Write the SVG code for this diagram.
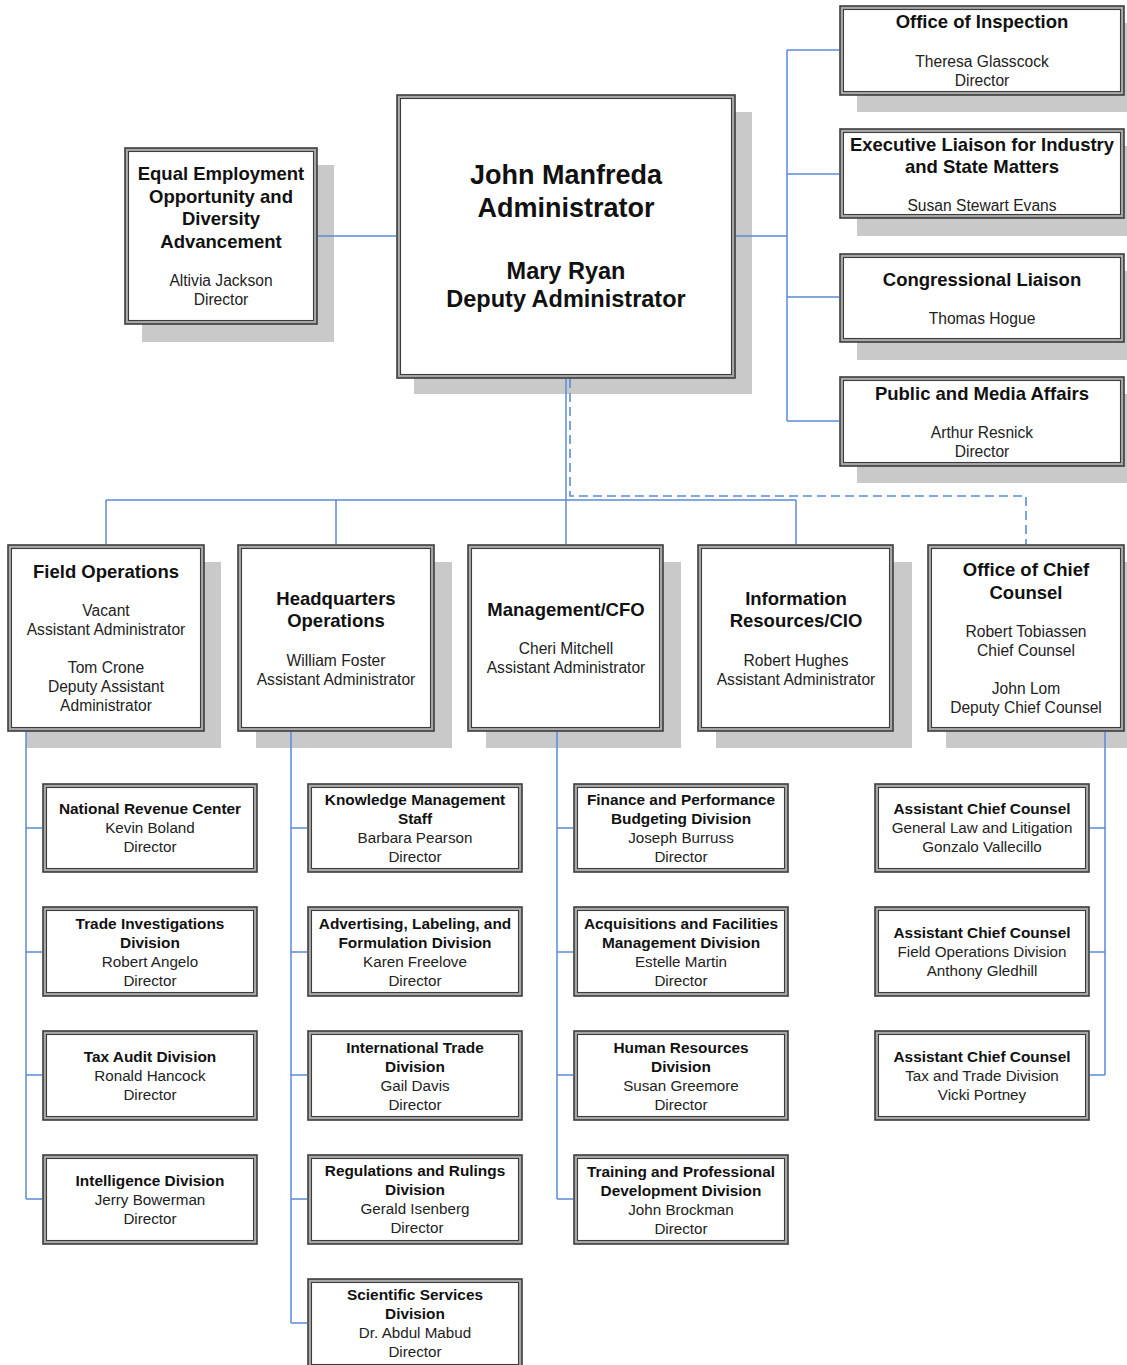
<svg xmlns="http://www.w3.org/2000/svg" width="1127" height="1365" viewBox="0 0 1127 1365">
<style>
.sh{fill:#c9c9c9}
.ob{fill:#a8a8a8;stroke:#3c3c3c;stroke-width:1.6}
.ib{fill:#fff;stroke:#3c3c3c;stroke-width:1.1}
text{font-family:"Liberation Sans",Arial,sans-serif;text-anchor:middle}
.t{font-weight:bold;font-size:18.5px;fill:#111}
.n{font-size:15.6px;fill:#222}
.st{font-weight:bold;font-size:15.4px;fill:#111}
.sn{font-size:15.2px;fill:#222}
.big{font-weight:bold;font-size:27px;fill:#111}
.mid{font-weight:bold;font-size:23.5px;fill:#111}
.c{fill:none;stroke:#5a8ad8;stroke-width:1.5}
.d{fill:none;stroke:#5a8ad8;stroke-width:1.6;stroke-dasharray:9,5}
</style>
<g id="eeo">
<rect class="sh" x="142" y="165" width="192" height="177"/>
<rect class="ob" x="125" y="148" width="192" height="176"/>
<rect class="ib" x="128.5" y="151.5" width="185" height="169"/>
<text class="t" x="221" y="179.5">Equal Employment</text>
<text class="t" x="221" y="202.5">Opportunity and</text>
<text class="t" x="221" y="224.5">Diversity</text>
<text class="t" x="221" y="247.5">Advancement</text>
<text class="n" x="221" y="285.5">Altivia Jackson</text>
<text class="n" x="221" y="304.5">Director</text>
</g>
<g id="administrator">
<rect class="sh" x="414" y="112" width="338" height="282"/>
<rect class="ob" x="397" y="95" width="338" height="283"/>
<rect class="ib" x="400.5" y="98.5" width="331" height="276"/>
<text class="big" x="566" y="183.5">John Manfreda</text>
<text class="big" x="566" y="216.5">Administrator</text>
<text class="mid" x="566" y="279">Mary Ryan</text>
<text class="mid" x="566" y="307">Deputy Administrator</text>
</g>
<g id="inspection">
<rect class="sh" x="857" y="23" width="284" height="89"/>
<rect class="ob" x="840" y="6" width="284" height="89"/>
<rect class="ib" x="843.5" y="9.5" width="277" height="82"/>
<text class="t" x="982" y="27.5">Office of Inspection</text>
<text class="n" x="982" y="66.5">Theresa Glasscock</text>
<text class="n" x="982" y="85.5">Director</text>
</g>
<g id="liaison">
<rect class="sh" x="857" y="146" width="284" height="90"/>
<rect class="ob" x="840" y="129" width="284" height="89"/>
<rect class="ib" x="843.5" y="132.5" width="277" height="82"/>
<text class="t" x="982" y="150.5">Executive Liaison for Industry</text>
<text class="t" x="982" y="172.5">and State Matters</text>
<text class="n" x="982" y="210.5">Susan Stewart Evans</text>
</g>
<g id="congressional">
<rect class="sh" x="857" y="271" width="284" height="89"/>
<rect class="ob" x="840" y="254" width="284" height="88"/>
<rect class="ib" x="843.5" y="257.5" width="277" height="81"/>
<text class="t" x="982" y="285.5">Congressional Liaison</text>
<text class="n" x="982" y="323.5">Thomas Hogue</text>
</g>
<g id="media">
<rect class="sh" x="857" y="394" width="284" height="89"/>
<rect class="ob" x="840" y="377" width="284" height="89"/>
<rect class="ib" x="843.5" y="380.5" width="277" height="82"/>
<text class="t" x="982" y="399.5">Public and Media Affairs</text>
<text class="n" x="982" y="437.5">Arthur Resnick</text>
<text class="n" x="982" y="456.5">Director</text>
</g>
<g id="field-ops">
<rect class="sh" x="26" y="562" width="195" height="186"/>
<rect class="ob" x="8" y="545" width="196" height="186"/>
<rect class="ib" x="11.5" y="548.5" width="189" height="179"/>
<text class="t" x="106" y="577.5">Field Operations</text>
<text class="n" x="106" y="615.5">Vacant</text>
<text class="n" x="106" y="634.5">Assistant Administrator</text>
<text class="n" x="106" y="672.5">Tom Crone</text>
<text class="n" x="106" y="691.5">Deputy Assistant</text>
<text class="n" x="106" y="710.5">Administrator</text>
</g>
<g id="hq-ops">
<rect class="sh" x="256" y="562" width="196" height="186"/>
<rect class="ob" x="238" y="545" width="196" height="186"/>
<rect class="ib" x="241.5" y="548.5" width="189" height="179"/>
<text class="t" x="336" y="604.5">Headquarters</text>
<text class="t" x="336" y="626.5">Operations</text>
<text class="n" x="336" y="665.5">William Foster</text>
<text class="n" x="336" y="684.5">Assistant Administrator</text>
</g>
<g id="mgmt-cfo">
<rect class="sh" x="486" y="562" width="195" height="186"/>
<rect class="ob" x="468" y="545" width="195" height="186"/>
<rect class="ib" x="471.5" y="548.5" width="188" height="179"/>
<text class="t" x="566" y="615.5">Management/CFO</text>
<text class="n" x="566" y="653.5">Cheri Mitchell</text>
<text class="n" x="566" y="672.5">Assistant Administrator</text>
</g>
<g id="info-cio">
<rect class="sh" x="716" y="562" width="196" height="186"/>
<rect class="ob" x="698" y="545" width="195" height="186"/>
<rect class="ib" x="701.5" y="548.5" width="188" height="179"/>
<text class="t" x="796" y="604.5">Information</text>
<text class="t" x="796" y="626.5">Resources/CIO</text>
<text class="n" x="796" y="665.5">Robert Hughes</text>
<text class="n" x="796" y="684.5">Assistant Administrator</text>
</g>
<g id="chief-counsel">
<rect class="sh" x="946" y="562" width="196" height="186"/>
<rect class="ob" x="928" y="545" width="196" height="186"/>
<rect class="ib" x="931.5" y="548.5" width="189" height="179"/>
<text class="t" x="1026" y="575.5">Office of Chief</text>
<text class="t" x="1026" y="598.5">Counsel</text>
<text class="n" x="1026" y="636.5">Robert Tobiassen</text>
<text class="n" x="1026" y="655.5">Chief Counsel</text>
<text class="n" x="1026" y="693.5">John Lom</text>
<text class="n" x="1026" y="712.5">Deputy Chief Counsel</text>
</g>
<g id="nrc">
<rect class="ob" x="43" y="784" width="214" height="88"/>
<rect class="ib" x="46.5" y="787.5" width="207" height="81"/>
<text class="st" x="150" y="813.5">National Revenue Center</text>
<text class="sn" x="150" y="832.5">Kevin Boland</text>
<text class="sn" x="150" y="851.5">Director</text>
</g>
<g id="trade-inv">
<rect class="ob" x="43" y="907" width="214" height="89"/>
<rect class="ib" x="46.5" y="910.5" width="207" height="82"/>
<text class="st" x="150" y="928.5">Trade Investigations</text>
<text class="st" x="150" y="947.5">Division</text>
<text class="sn" x="150" y="966.5">Robert Angelo</text>
<text class="sn" x="150" y="985.5">Director</text>
</g>
<g id="tax-audit">
<rect class="ob" x="43" y="1031" width="214" height="89"/>
<rect class="ib" x="46.5" y="1034.5" width="207" height="82"/>
<text class="st" x="150" y="1061.5">Tax Audit Division</text>
<text class="sn" x="150" y="1080.5">Ronald Hancock</text>
<text class="sn" x="150" y="1099.5">Director</text>
</g>
<g id="intelligence">
<rect class="ob" x="43" y="1155" width="214" height="89"/>
<rect class="ib" x="46.5" y="1158.5" width="207" height="82"/>
<text class="st" x="150" y="1185.5">Intelligence Division</text>
<text class="sn" x="150" y="1204.5">Jerry Bowerman</text>
<text class="sn" x="150" y="1223.5">Director</text>
</g>
<g id="knowledge">
<rect class="ob" x="308" y="784" width="214" height="88"/>
<rect class="ib" x="311.5" y="787.5" width="207" height="81"/>
<text class="st" x="415" y="804.5">Knowledge Management</text>
<text class="st" x="415" y="823.5">Staff</text>
<text class="sn" x="415" y="842.5">Barbara Pearson</text>
<text class="sn" x="415" y="861.5">Director</text>
</g>
<g id="advertising">
<rect class="ob" x="308" y="907" width="214" height="89"/>
<rect class="ib" x="311.5" y="910.5" width="207" height="82"/>
<text class="st" x="415" y="928.5">Advertising, Labeling, and</text>
<text class="st" x="415" y="947.5">Formulation Division</text>
<text class="sn" x="415" y="966.5">Karen Freelove</text>
<text class="sn" x="415" y="985.5">Director</text>
</g>
<g id="intl-trade">
<rect class="ob" x="308" y="1031" width="214" height="89"/>
<rect class="ib" x="311.5" y="1034.5" width="207" height="82"/>
<text class="st" x="415" y="1052.5">International Trade</text>
<text class="st" x="415" y="1071.5">Division</text>
<text class="sn" x="415" y="1090.5">Gail Davis</text>
<text class="sn" x="415" y="1109.5">Director</text>
</g>
<g id="regulations">
<rect class="ob" x="308" y="1155" width="214" height="89"/>
<rect class="ib" x="311.5" y="1158.5" width="207" height="82"/>
<text class="st" x="415" y="1175.5">Regulations and Rulings</text>
<text class="st" x="415" y="1194.5">Division</text>
<text class="sn" x="415" y="1213.5">Gerald Isenberg</text>
<text class="sn" x="417" y="1232.5">Director</text>
</g>
<g id="scientific">
<rect class="ob" x="308" y="1279" width="214" height="89"/>
<rect class="ib" x="311.5" y="1282.5" width="207" height="82"/>
<text class="st" x="415" y="1299.5">Scientific Services</text>
<text class="st" x="415" y="1318.5">Division</text>
<text class="sn" x="415" y="1337.5">Dr. Abdul Mabud</text>
<text class="sn" x="415" y="1356.5">Director</text>
</g>
<g id="finance">
<rect class="ob" x="574" y="784" width="214" height="88"/>
<rect class="ib" x="577.5" y="787.5" width="207" height="81"/>
<text class="st" x="681" y="804.5">Finance and Performance</text>
<text class="st" x="681" y="823.5">Budgeting Division</text>
<text class="sn" x="681" y="842.5">Joseph Burruss</text>
<text class="sn" x="681" y="861.5">Director</text>
</g>
<g id="acquisitions">
<rect class="ob" x="574" y="907" width="214" height="89"/>
<rect class="ib" x="577.5" y="910.5" width="207" height="82"/>
<text class="st" x="681" y="928.5">Acquisitions and Facilities</text>
<text class="st" x="681" y="947.5">Management Division</text>
<text class="sn" x="681" y="966.5">Estelle Martin</text>
<text class="sn" x="681" y="985.5">Director</text>
</g>
<g id="hr">
<rect class="ob" x="574" y="1031" width="214" height="89"/>
<rect class="ib" x="577.5" y="1034.5" width="207" height="82"/>
<text class="st" x="681" y="1052.5">Human Resources</text>
<text class="st" x="681" y="1071.5">Division</text>
<text class="sn" x="681" y="1090.5">Susan Greemore</text>
<text class="sn" x="681" y="1109.5">Director</text>
</g>
<g id="training">
<rect class="ob" x="574" y="1155" width="214" height="89"/>
<rect class="ib" x="577.5" y="1158.5" width="207" height="82"/>
<text class="st" x="681" y="1176.5">Training and Professional</text>
<text class="st" x="681" y="1195.5">Development Division</text>
<text class="sn" x="681" y="1214.5">John Brockman</text>
<text class="sn" x="681" y="1233.5">Director</text>
</g>
<g id="acc-general">
<rect class="ob" x="875" y="784" width="214" height="88"/>
<rect class="ib" x="878.5" y="787.5" width="207" height="81"/>
<text class="st" x="982" y="813.5">Assistant Chief Counsel</text>
<text class="sn" x="982" y="832.5">General Law and Litigation</text>
<text class="sn" x="982" y="851.5">Gonzalo Vallecillo</text>
</g>
<g id="acc-field">
<rect class="ob" x="875" y="907" width="214" height="89"/>
<rect class="ib" x="878.5" y="910.5" width="207" height="82"/>
<text class="st" x="982" y="937.5">Assistant Chief Counsel</text>
<text class="sn" x="982" y="956.5">Field Operations Division</text>
<text class="sn" x="982" y="975.5">Anthony Gledhill</text>
</g>
<g id="acc-tax">
<rect class="ob" x="875" y="1031" width="214" height="89"/>
<rect class="ib" x="878.5" y="1034.5" width="207" height="82"/>
<text class="st" x="982" y="1061.5">Assistant Chief Counsel</text>
<text class="sn" x="982" y="1080.5">Tax and Trade Division</text>
<text class="sn" x="982" y="1099.5">Vicki Portney</text>
</g>
<g id="connectors">
<path class="c" d="M318,236H396"/>
<path class="c" d="M736,236H787M787,50V421M787,50H839M787,174H839M787,297H839M787,421H839"/>
<path class="c" d="M566,379V544M106,500H796M106,500V544M336,500V544M796,500V544"/>
<path class="d" d="M570,379V496H1026V544"/>
<path class="c" d="M26,732V1199M26,828H42M26,952H42M26,1075H42M26,1199H42"/>
<path class="c" d="M291,732V1323M291,828H307M291,952H307M291,1075H307M291,1199H307M291,1323H307"/>
<path class="c" d="M557,732V1199M557,828H573M557,952H573M557,1075H573M557,1199H573"/>
<path class="c" d="M1105,732V1075M1090,828H1105M1090,952H1105M1090,1075H1105"/>
</g>
</svg>
